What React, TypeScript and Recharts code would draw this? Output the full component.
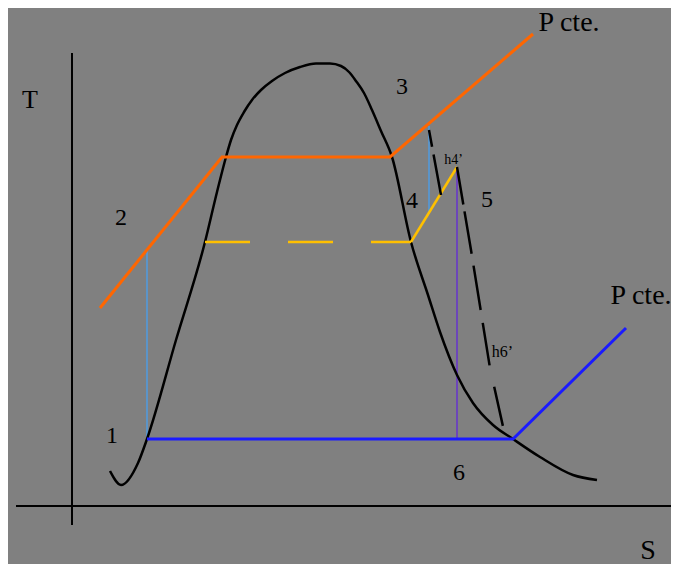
import { ComposedChart, Line, Scatter, XAxis, YAxis } from "recharts";

// entropy (s) / temperature (t) in arbitrary units, origin at the axes crossing
const saturationDome = [
  { s: 38, t: 35 },
  { s: 49, t: 21 },
  { s: 66, t: 43 },
  { s: 75, t: 67 },
  { s: 104, t: 166 },
  { s: 133, t: 264 },
  { s: 145, t: 314 },
  { s: 154, t: 349 },
  { s: 159, t: 366 },
  { s: 165, t: 381 },
  { s: 172, t: 394 },
  { s: 180, t: 406 },
  { s: 189, t: 416 },
  { s: 200, t: 425 },
  { s: 213, t: 433 },
  { s: 228, t: 439 },
  { s: 244, t: 442.5 },
  { s: 258, t: 442.5 },
  { s: 269, t: 440 },
  { s: 277, t: 434 },
  { s: 284, t: 425 },
  { s: 292, t: 413 },
  { s: 300, t: 396 },
  { s: 309, t: 375 },
  { s: 320, t: 349 },
  { s: 339, t: 264 },
  { s: 356, t: 211 },
  { s: 368, t: 174 },
  { s: 385, t: 131 },
  { s: 401, t: 103 },
  { s: 421, t: 81 },
  { s: 441, t: 67 },
  { s: 468, t: 49 },
  { s: 501, t: 31 },
  { s: 525, t: 26 },
];

const highPressure = [
  { s: 28, t: 198 },
  { s: 150, t: 349 },
  { s: 318, t: 349 },
  { s: 461, t: 472 },
];

const lowPressure = [
  { s: 75, t: 67 },
  { s: 441, t: 67 },
  { s: 554, t: 178 },
];

const pumpLine = [
  { s: 75, t: 67 },
  { s: 75, t: 255 },
];

const isentropicTurbine = [
  { s: 357, t: 293 },
  { s: 357, t: 380 },
];

const midPressureDashed = [
  { s: 133, t: 264 },
  { s: 339, t: 264 },
];

const midPressureSolid = [
  { s: 339, t: 264 },
  { s: 385, t: 339 },
];

const isentropicLow = [
  { s: 385, t: 67 },
  { s: 385, t: 339 },
];

const realExpansionHigh = [
  { s: 357, t: 376 },
  { s: 369, t: 311 },
];

const realExpansionLow = [
  { s: 385, t: 339 },
  { s: 399, t: 256 },
  { s: 418, t: 138 },
  { s: 432, t: 75 },
];

const tAxis = [
  { s: 0, t: 453 },
  { s: 0, t: -19 },
];

const sAxis = [
  { s: -56, t: 0 },
  { s: 607, t: 0 },
];

const labels = [
  { s: 497, t: 475, text: "P cte.", size: 28 },
  { s: 569, t: 202, text: "P cte.", size: 28 },
  { s: -42, t: 398, text: "T", size: 26 },
  { s: 576, t: -53, text: "S", size: 28 },
  { s: 40, t: 63, text: "1", size: 24 },
  { s: 49, t: 281, text: "2", size: 24 },
  { s: 330, t: 412, text: "3", size: 24 },
  { s: 340, t: 298, text: "4", size: 24 },
  { s: 415, t: 299, text: "5", size: 24 },
  { s: 387, t: 26, text: "6", size: 24 },
  { s: 381.5, t: 342, text: "h4’", size: 14 },
  { s: 430.5, t: 149, text: "h6’", size: 16 },
];

const FONT = "'Liberation Serif', 'Times New Roman', serif";

const LabelText = (props: any) => {
  const { cx, cy, payload } = props;
  return (
    <text
      x={cx}
      y={cy}
      textAnchor="middle"
      fontFamily={FONT}
      fontSize={payload.size}
      fill="#000"
    >
      {payload.text}
    </text>
  );
};

export default function App() {
  return (
    <div style={{ width: 671, height: 558, marginTop: -2, background: "#808080" }}>
      <ComposedChart
        width={671}
        height={558}
        margin={{ top: 0, right: 0, bottom: 0, left: 0 }}
      >
        <XAxis type="number" dataKey="s" domain={[-64, 607]} allowDataOverflow hide />
        <YAxis type="number" dataKey="t" domain={[-58, 500]} allowDataOverflow hide />

        <Line data={tAxis} dataKey="t" type="linear" stroke="#000" strokeWidth={2} dot={false} isAnimationActive={false} />
        <Line data={sAxis} dataKey="t" type="linear" stroke="#000" strokeWidth={2} dot={false} isAnimationActive={false} />

        <Line data={pumpLine} dataKey="t" type="linear" stroke="#4f9be0" strokeWidth={1.5} dot={false} isAnimationActive={false} />
        <Line data={isentropicTurbine} dataKey="t" type="linear" stroke="#4f9be0" strokeWidth={1.5} dot={false} isAnimationActive={false} />
        <Line data={isentropicLow} dataKey="t" type="linear" stroke="#6633cc" strokeWidth={1.5} dot={false} isAnimationActive={false} />

        <Line data={saturationDome} dataKey="t" type="monotone" stroke="#000" strokeWidth={2.5} dot={false} isAnimationActive={false} />

        <Line data={highPressure} dataKey="t" type="linear" stroke="#ff6600" strokeWidth={3} dot={false} isAnimationActive={false} />
        <Line data={lowPressure} dataKey="t" type="linear" stroke="#1a1aff" strokeWidth={3} dot={false} isAnimationActive={false} />
        <Line data={midPressureDashed} dataKey="t" type="linear" stroke="#ffc000" strokeWidth={2.5} strokeDasharray="45 38" dot={false} isAnimationActive={false} />
        <Line data={midPressureSolid} dataKey="t" type="linear" stroke="#ffc000" strokeWidth={2.5} dot={false} isAnimationActive={false} />

        <Line data={realExpansionHigh} dataKey="t" type="linear" stroke="#000" strokeWidth={2.5} strokeDasharray="17 8 42 8" dot={false} isAnimationActive={false} />
        <Line data={realExpansionLow} dataKey="t" type="linear" stroke="#000" strokeWidth={2.5} strokeDasharray="38 7 43 12 45 13 43 22 40 10" dot={false} isAnimationActive={false} />

        <Scatter data={labels} dataKey="t" shape={LabelText} isAnimationActive={false} />
      </ComposedChart>
    </div>
  );
}
